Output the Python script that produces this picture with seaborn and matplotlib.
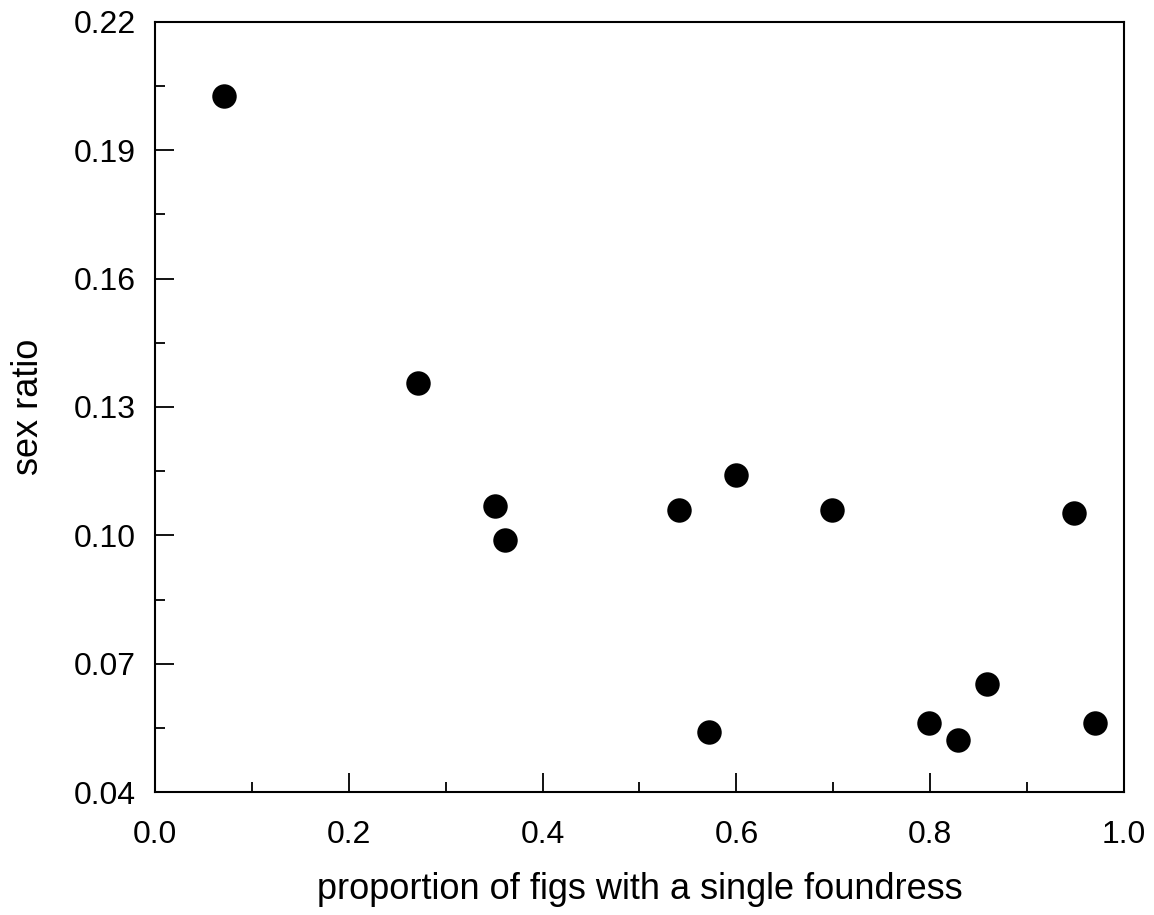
import matplotlib
matplotlib.use("Agg")
import matplotlib.pyplot as plt
import seaborn as sns
import pandas as pd
from matplotlib.ticker import FixedLocator, FormatStrFormatter

prop_single = [0.071, 0.271, 0.351, 0.361, 0.541, 0.572, 0.600, 0.699, 0.799, 0.829, 0.859, 0.948, 0.970]
sex_ratio = [0.2027, 0.1356, 0.1069, 0.0989, 0.1059, 0.0540, 0.1141, 0.1059, 0.0561, 0.0522, 0.0653, 0.1052, 0.0561]

x_major = [0.0, 0.2, 0.4, 0.6, 0.8, 1.0]
x_minor = [0.1, 0.3, 0.5, 0.7, 0.9]
y_major = [0.04, 0.07, 0.10, 0.13, 0.16, 0.19, 0.22]
y_minor = [0.055, 0.085, 0.115, 0.145, 0.175, 0.205]

df = pd.DataFrame({"x": prop_single, "y": sex_ratio})

sns.set_style("ticks")
plt.rcParams['font.family'] = ['Liberation Sans', 'DejaVu Sans']
plt.rcParams['text.color'] = 'black'
plt.rcParams['axes.labelcolor'] = 'black'

fig = plt.figure(figsize=(11.54, 9.15), dpi=100)
ax = fig.add_axes([0.1343, 0.1344, 0.9740 - 0.1343, 0.976 - 0.1344])
sns.scatterplot(data=df, x="x", y="y", ax=ax, s=310, color="black", edgecolor="black", linewidth=0)

ax.set_xlim(0.0, 1.0)
ax.set_ylim(0.04, 0.22)
ax.xaxis.set_major_locator(FixedLocator(x_major))
ax.xaxis.set_minor_locator(FixedLocator(x_minor))
ax.yaxis.set_major_locator(FixedLocator(y_major))
ax.yaxis.set_minor_locator(FixedLocator(y_minor))
ax.xaxis.set_major_formatter(FormatStrFormatter('%.1f'))
ax.yaxis.set_major_formatter(FormatStrFormatter('%.2f'))
ax.tick_params(which='both', direction='in', labelsize=23, width=1.3, colors='black')
ax.tick_params(axis='x', which='major', pad=20)
ax.tick_params(axis='y', which='major', pad=14)
ax.tick_params(which='major', length=14)
ax.tick_params(which='minor', length=7)
for sp in ax.spines.values():
    sp.set_visible(True)
    sp.set_linewidth(1.5)
    sp.set_color('black')
ax.set_xlabel("proportion of figs with a single foundress", fontsize=26, labelpad=16)
ax.set_ylabel("sex ratio", fontsize=26, labelpad=20)

fig.savefig("out.png", dpi=100)
